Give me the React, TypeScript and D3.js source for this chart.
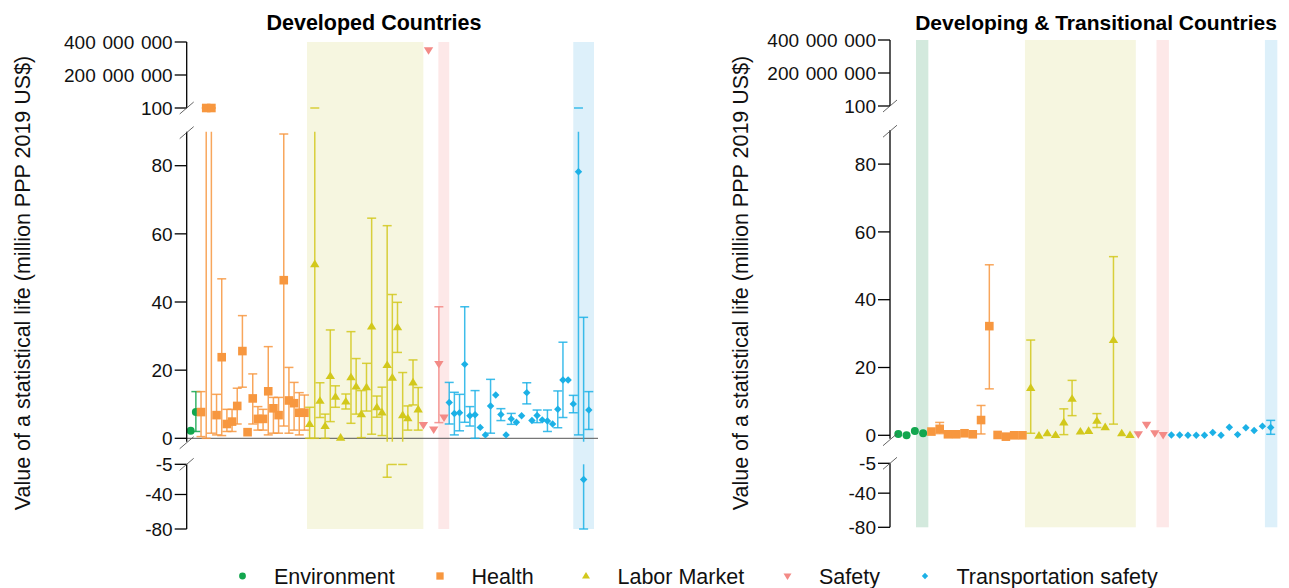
import React from "react";
import * as d3 from "d3";

type Pt = [number, number | null, number | null];

const categories = ["Environment", "Health", "Labor Market", "Safety", "Transportation safety"];
const colors = ["#12a64e", "#f7973f", "#d2c81c", "#f38a86", "#1cb1e6"];
const bandColors = ["#d3e9dd", "#fbeee0", "#f6f6e0", "#fde8e8", "#ddf0fa"];

// Developed countries: [value, low, high] (million PPP 2019 US$)
const devEnvironment: Pt[] = [
  [2.2, null, null],
  [7.7, 2.0, 13.7],
];
const devHealth: Pt[] = [
  [7.7, 0.5, 13.7],
  [100, 0, 150],
  [100, 1.5, 150],
  [6.8, 1.0, 12.9],
  [23.8, 0.8, 46.8],
  [4.2, 2.0, 8.5],
  [4.9, 2.0, 8.5],
  [9.5, 4.2, 14.7],
  [25.6, 15.0, 36.0],
  [1.8, null, null],
  [11.7, 4.2, 18.9],
  [5.7, 2.4, 9.3],
  [5.7, 2.4, 8.5],
  [13.8, 1.0, 26.9],
  [8.8, 1.5, 12.0],
  [6.8, 1.5, 12.0],
  [46.4, 3.6, 89.3],
  [11.1, 1.5, 20.8],
  [10.3, 2.4, 16.4],
  [7.5, 1.0, 13.4],
  [7.5, 2.4, 12.7],
];
const devLabor: Pt[] = [
  [4.2, 0, 9.1],
  [51.1, 0, 120],
  [11.0, 6.1, 16.3],
  [3.6, 0, 7.1],
  [18.3, 4.9, 31.8],
  [12.2, 9.1, 15.4],
  [0.2, null, null],
  [10.8, 8.6, 13.0],
  [17.9, 4.4, 31.3],
  [15.2, 7.1, 23.4],
  [7.1, 0.2, 14.0],
  [15.0, 8.0, 22.0],
  [32.8, 1.2, 64.6],
  [9.1, 6.2, 12.4],
  [7.6, 0.8, 15.0],
  [21.5, -20, 62.4],
  [17.8, -5.2, 42.2],
  [32.6, 25.2, 39.9],
  [6.8, -5.2, 19.3],
  [5.9, 2.4, 9.5],
  [16.4, 9.8, 23.0],
  [8.5, 2.4, 14.9],
];
const devSafety: Pt[] = [
  [3.9, null, null],
  [350000000, null, null],
  [2.6, null, null],
  [21.8, 4.6, 38.6],
  [6.1, null, null],
];
const devTransport: Pt[] = [
  [10.5, 4.2, 16.4],
  [7.3, 1.0, 13.5],
  [7.5, 2.2, 12.9],
  [21.7, 4.7, 38.6],
  [6.6, 3.6, 9.3],
  [6.9, 0, 14.0],
  [3.2, null, null],
  [1.0, null, null],
  [9.5, 1.5, 17.3],
  [12.7, null, null],
  [7.0, 5.2, 8.7],
  [1.0, null, null],
  [5.7, 4.1, 7.3],
  [4.7, null, null],
  [6.6, null, null],
  [13.4, 10.1, 16.3],
  [5.2, null, null],
  [6.7, 4.6, 8.3],
  [5.4, null, null],
  [5.1, 2.0, 8.3],
  [4.2, null, null],
  [8.5, 3.1, 13.9],
  [17.1, 6.1, 28.2],
  [17.1, null, null],
  [10.1, 7.5, 12.6],
  [78.2, 1.0, 120],
  [-22.6, -80, 35.5],
  [8.3, 2.6, 13.7],
];

// Developing & transitional countries
const dtcEnvironment: Pt[] = [
  [0.4, null, null],
  [0.0, null, null],
  [1.3, null, null],
  [0.6, null, null],
];
const dtcHealth: Pt[] = [
  [1.1, null, null],
  [1.9, 0.5, 3.8],
  [0.3, null, null],
  [0.3, null, null],
  [0.6, null, null],
  [0.3, null, null],
  [4.5, 0.4, 8.8],
  [32.2, 13.7, 50.3],
  [0.1, null, null],
  [-0.4, null, null],
  [0.0, null, null],
  [0.0, null, null],
];
const dtcLabor: Pt[] = [
  [14.0, 0.6, 28.1],
  [-0.1, null, null],
  [0.6, null, null],
  [0.1, null, null],
  [3.8, 0.2, 7.8],
  [10.8, 5.8, 16.2],
  [1.1, null, null],
  [1.3, null, null],
  [4.3, 2.3, 6.4],
  [2.4, null, null],
  [28.1, 3.3, 52.7],
  [0.6, null, null],
  [0.1, null, null],
];
const dtcSafety: Pt[] = [
  [0.3, null, null],
  [3.1, null, null],
  [0.6, null, null],
  [0.1, null, null],
];
const dtcTransport: Pt[] = [
  [0.1, null, null],
  [0.1, null, null],
  [0.0, null, null],
  [0.0, null, null],
  [0.0, null, null],
  [0.8, null, null],
  [0.0, null, null],
  [2.4, null, null],
  [0.2, null, null],
  [2.2, null, null],
  [1.4, null, null],
  [2.7, null, null],
  [2.3, 0.3, 4.4],
];

// highlighted bands: [category index, start index, end index]
const devBands: [number, number, number][] = [
  [2, 22.5, 45.0],
  [3, 47.9, 50.0],
  [4, 74.0, 78.0],
];
const dtcBands: [number, number, number][] = [
  [0, 2.14, 3.63],
  [2, 15.3, 28.7],
  [3, 31.2, 32.7],
  [4, 44.3, 45.8],
];

const yTicksTop = [400000000, 200000000, 100];
const yTicksMid = [0, 20, 40, 60, 80];
const yTicksBottom = [-5, -40, -80];

const titles = ["Developed Countries", "Developing & Transitional Countries"];
const yLabel = "Value of a statistical life (million PPP 2019 US$)";

const FONT = "'Liberation Sans', Arial, Helvetica, sans-serif";

const fmt = (v: number) =>
  Math.abs(v) >= 1e6 ? d3.format(",")(v).replace(/,/g, " ") : String(v);

function flatten(groups: Pt[][]) {
  const out: { cat: number; i: number; v: number; lo: number | null; hi: number | null }[] = [];
  let i = 0;
  groups.forEach((g, cat) => {
    g.forEach((p) => {
      out.push({ cat, i, v: p[0], lo: p[1], hi: p[2] });
      i++;
    });
  });
  return out;
}

function symbolPath(cat: number, big: boolean) {
  const k = big ? 1 : 0.85;
  if (cat === 0) return d3.symbol(d3.symbolCircle, Math.PI * (4 * k) ** 2)()!;
  if (cat === 1) return d3.symbol(d3.symbolSquare, (8.6 * k) ** 2)()!;
  if (cat === 4) return d3.symbol(d3.symbolDiamond2, (8.4 * k) ** 2 / 2)()!;
  const w = 9.4 * k;
  const h = 7.6 * k;
  if (cat === 2) return `M0,${-h * 0.6}L${w / 2},${h * 0.4}L${-w / 2},${h * 0.4}Z`;
  return `M0,${h * 0.6}L${w / 2},${-h * 0.4}L${-w / 2},${-h * 0.4}Z`;
}

type PanelCfg = {
  axisX: number;
  xFirst: number;
  xLast: number;
  xEnd: number;
  zeroLine: boolean;
  y400: number;
  y100: number;
  zero: number;
  unit: number;
  yM5: number;
  yM80: number;
  titleX: number;
  titleSize: number;
  labelX: number;
};

function Panel({ cfg, data, bands, title }: { cfg: PanelCfg; data: Pt[][]; bands: [number, number, number][]; title: string }) {
  const pts = flatten(data);
  const n = pts.length;
  const x = d3.scaleLinear().domain([0, n - 1]).range([cfg.xFirst, cfg.xLast]);
  const segs = [
    { d0: 100, d1: 4e8, s: d3.scaleLinear().domain([100, 4e8]).range([cfg.y100, cfg.y400]) },
    { d0: -1, d1: 90, s: d3.scaleLinear().domain([0, 90]).range([cfg.zero, cfg.zero - 90 * cfg.unit]) },
    { d0: -80, d1: -5, s: d3.scaleLinear().domain([-80, -5]).range([cfg.yM80, cfg.yM5]) },
  ];
  const mid = segs[1].s;
  const capW = 4.5;
  const ax = cfg.axisX;
  const tickLen = 12;
  const brk = (y: number, key: string) => (
    <line key={key} x1={ax - 7} y1={y + 6} x2={ax + 7} y2={y - 6} stroke="#555" strokeWidth={0.9} />
  );
  return (
    <g>
      {bands.map(([cat, a, b], k) => (
        <rect key={"b" + k} x={x(a)} y={cfg.y400} width={x(b) - x(a)} height={cfg.yM80 - cfg.y400} fill={bandColors[cat]} />
      ))}
      {cfg.zeroLine && <line x1={ax} x2={cfg.xEnd} y1={mid(0)} y2={mid(0)} stroke="#555" strokeWidth={1} />}
      {pts.map((p, k) => {
        if (p.lo === null || p.hi === null) return null;
        const lo = p.lo, hi = p.hi;
        const col = colors[p.cat];
        const xc = x(p.i);
        return (
          <g key={"e" + k} stroke={col} strokeWidth={1.5} strokeOpacity={0.85}>
            {segs.map((sg, j) => {
              const a = Math.max(lo, sg.d0);
              const b = Math.min(hi, sg.d1);
              if (a > b) return null;
              return (
                <g key={j}>
                  <line x1={xc} x2={xc} y1={sg.s(a)} y2={sg.s(b)} />
                  {lo >= sg.d0 && lo <= sg.d1 && <line x1={xc - capW} x2={xc + capW} y1={sg.s(lo)} y2={sg.s(lo)} />}
                  {hi >= sg.d0 && hi <= sg.d1 && <line x1={xc - capW} x2={xc + capW} y1={sg.s(hi)} y2={sg.s(hi)} />}
                </g>
              );
            })}
          </g>
        );
      })}
      {pts.map((p, k) => {
        const sg = segs.find((s) => p.v >= s.d0 && p.v <= s.d1);
        if (!sg) return null;
        return (
          <path key={"m" + k} d={symbolPath(p.cat, true)} transform={`translate(${x(p.i)},${sg.s(p.v)})`} fill={colors[p.cat]} />
        );
      })}
      {/* axes */}
      <g stroke="#000" strokeWidth={1.3}>
        <line x1={ax} x2={ax} y1={cfg.y400} y2={cfg.y100} />
        <line x1={ax} x2={ax} y1={mid(90)} y2={mid(-1)} />
        <line x1={ax} x2={ax} y1={cfg.yM5} y2={cfg.yM80} />
        {yTicksTop.map((t) => (
          <line key={"tt" + t} x1={ax - tickLen} x2={ax} y1={segs[0].s(t)} y2={segs[0].s(t)} />
        ))}
        {yTicksMid.map((t) => (
          <line key={"tm" + t} x1={ax - tickLen} x2={ax} y1={mid(t)} y2={mid(t)} />
        ))}
        {yTicksBottom.map((t) => (
          <line key={"tb" + t} x1={ax - tickLen} x2={ax} y1={segs[2].s(t)} y2={segs[2].s(t)} />
        ))}
      </g>
      {brk(cfg.y100, "k1")}
      {brk(mid(90) + 1, "k2")}
      {brk(mid(-1) + 1, "k3")}
      {brk(cfg.yM5, "k4")}
      <g fontFamily={FONT} fontSize={19} fill="#111" textAnchor="end">
        {yTicksTop.map((t) => (
          <text key={"lt" + t} x={ax - tickLen - 2} y={segs[0].s(t)} dy="0.35em" wordSpacing="1.5px">{fmt(t)}</text>
        ))}
        {yTicksMid.map((t) => (
          <text key={"lm" + t} x={ax - tickLen - 2} y={mid(t)} dy="0.35em">{fmt(t)}</text>
        ))}
        {yTicksBottom.map((t) => (
          <text key={"lb" + t} x={ax - tickLen - 2} y={segs[2].s(t)} dy="0.35em">{fmt(t)}</text>
        ))}
      </g>
      <text x={cfg.titleX} y={30} textAnchor="middle" fontFamily={FONT} fontWeight="bold" fontSize={cfg.titleSize} fill="#000">
        {title}
      </text>
      <text
        transform={`translate(${cfg.labelX},${283}) rotate(-90)`}
        textAnchor="middle"
        fontFamily={FONT}
        fontSize={21.5}
        fill="#111"
      >
        {yLabel}
      </text>
    </g>
  );
}

const leftCfg: PanelCfg = {
  axisX: 186.7, xFirst: 190.7, xLast: 588.8, xEnd: 598, zeroLine: true,
  y400: 42, y100: 108, zero: 438.3, unit: 3.4075, yM5: 464.3, yM80: 529,
  titleX: 374, titleSize: 21.5, labelX: 30,
};
const rightCfg: PanelCfg = {
  axisX: 890, xFirst: 898.3, xLast: 1270.7, xEnd: 1280, zeroLine: false,
  y400: 40, y100: 106, zero: 435.3, unit: 3.39, yM5: 463.3, yM80: 527.3,
  titleX: 1096, titleSize: 21, labelX: 748,
};

const legendX = [242.5, 440, 586, 787.5, 925];

export default function App() {
  return (
    <svg width={1289} height={588} style={{ position: "absolute", left: 0, top: 0, background: "#fff" }}>
      <rect width={1289} height={588} fill="#fff" />
      <Panel cfg={leftCfg} data={[devEnvironment, devHealth, devLabor, devSafety, devTransport]} bands={devBands} title={titles[0]} />
      <Panel cfg={rightCfg} data={[dtcEnvironment, dtcHealth, dtcLabor, dtcSafety, dtcTransport]} bands={dtcBands} title={titles[1]} />
      <g fontFamily={FONT} fontSize={21.5} fill="#111">
        {categories.map((c, k) => (
          <g key={c}>
            <path d={symbolPath(k, false)} transform={`translate(${legendX[k]},576)`} fill={colors[k]} />
            <text x={legendX[k] + 31.5} y={583.5}>{c}</text>
          </g>
        ))}
      </g>
    </svg>
  );
}
